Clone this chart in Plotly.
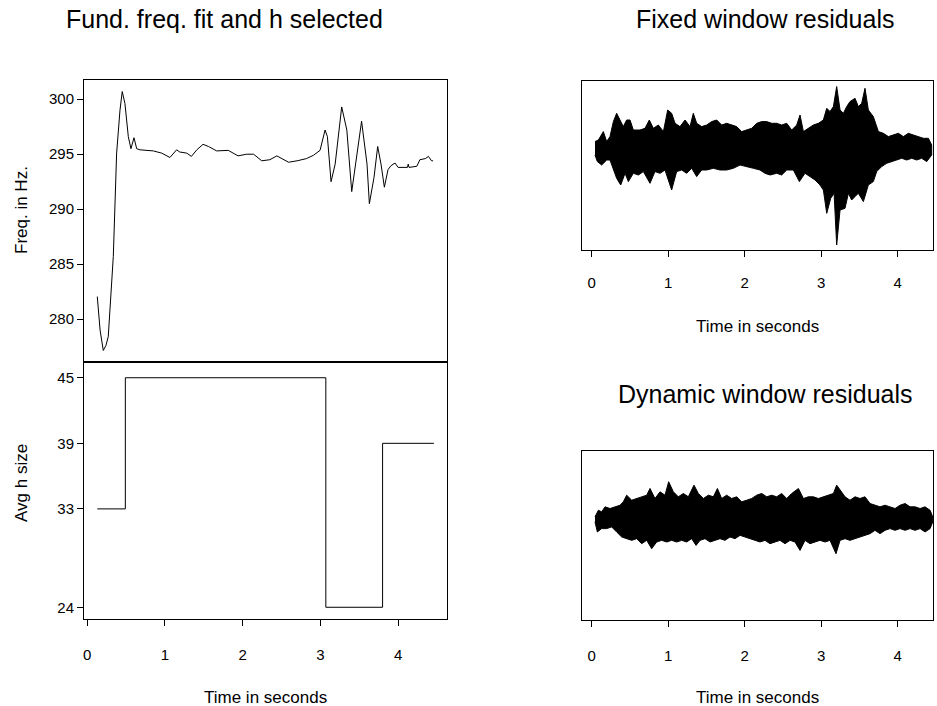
import plotly.graph_objects as go

W, H = 937, 706

# ---------------- data ----------------
freq_t = [0.129, 0.165, 0.206, 0.24, 0.27, 0.30, 0.335, 0.378, 0.421, 0.45, 0.485, 0.528, 0.562,
          0.601, 0.636, 0.678, 0.76, 0.85, 0.957, 1.064, 1.15, 1.19, 1.28, 1.34, 1.41, 1.49, 1.56,
          1.665, 1.815, 1.94, 2.05, 2.14, 2.245, 2.35, 2.44, 2.51, 2.59, 2.70, 2.82, 2.91, 2.995,
          3.06, 3.09, 3.137, 3.19, 3.274, 3.34, 3.403, 3.47, 3.53, 3.60, 3.63, 3.69, 3.737, 3.78,
          3.823, 3.87, 3.909, 3.96, 4.00, 4.12, 4.13, 4.14, 4.24, 4.28, 4.35, 4.39, 4.43, 4.45]
freq_hz = [282.05, 279.0, 277.15, 277.6, 278.4, 281.5, 285.7, 295.1, 299.0, 300.7, 299.6, 296.6, 295.5,
           296.5, 295.5, 295.4, 295.35, 295.3, 295.1, 294.7, 295.4, 295.2, 295.1, 294.8, 295.4, 295.9, 295.7,
           295.3, 295.35, 294.85, 295.0, 295.0, 294.4, 294.5, 294.85, 294.6, 294.27, 294.4, 294.6, 294.9, 295.35,
           297.2, 296.6, 292.5, 294.1, 299.3, 297.2, 291.6, 295.1, 298.0, 294.1, 290.5, 292.9, 295.7, 294.1,
           292.0, 293.6, 293.96, 294.2, 293.8, 293.8, 294.1, 293.8, 293.9, 294.5, 294.6, 294.8, 294.4, 294.4]

h_t = [0.129, 0.49, 3.07, 3.80, 4.46]
h_size = [33, 45, 24, 39, 39]
h_ticks = [24, 33, 39, 45]

# ---- Fixed window residuals: upper / lower envelope (arbitrary units) ----
fix_up_t = [0.043, 0.087, 0.152, 0.196, 0.239, 0.283, 0.326, 0.370, 0.413, 0.457, 0.501, 0.544, 0.631,
            0.697, 0.753, 0.806, 0.871, 0.937, 0.993, 1.045, 1.089, 1.154, 1.22, 1.285, 1.328, 1.372,
            1.437, 1.503, 1.568, 1.634, 1.699, 1.764, 1.83, 1.895, 1.96, 2.026, 2.091, 2.157, 2.222,
            2.287, 2.353, 2.418, 2.483, 2.549, 2.614, 2.68, 2.723, 2.767, 2.832, 2.897, 2.963, 3.028,
            3.072, 3.115, 3.159, 3.202, 3.246, 3.29, 3.333, 3.376, 3.442, 3.485, 3.529, 3.572, 3.616,
            3.681, 3.747, 3.812, 3.878, 3.943, 4.008, 4.074, 4.139, 4.205, 4.27, 4.335, 4.401, 4.444]
fix_up = [0.67, 0.83, 1.67, 0.67, 1.17, 2.67, 3.5, 2.83, 2.17, 2.83, 2.83, 1.83, 1.83,
          2.0, 2.83, 2.0, 2.33, 1.67, 3.83, 3.5, 2.5, 2.17, 2.83, 2.17, 3.5, 2.5,
          2.17, 2.33, 2.67, 2.83, 2.33, 2.5, 2.33, 2.17, 1.67, 1.83, 2.0, 2.5, 2.67,
          2.67, 2.5, 2.5, 2.33, 2.5, 1.83, 2.33, 3.33, 1.67, 2.0, 2.33, 2.5, 2.83,
          4.0, 3.67, 4.17, 6.17, 3.83, 3.5, 4.17, 4.67, 5.0, 4.17, 4.5, 6.0, 3.83,
          3.17, 1.67, 1.5, 1.17, 1.33, 1.5, 1.17, 1.5, 1.33, 1.17, 1.0, 1.0, 0.33]
fix_lo_t = [0.043, 0.074, 0.13, 0.196, 0.239, 0.283, 0.326, 0.379, 0.436, 0.479, 0.544, 0.61, 0.675,
            0.762, 0.827, 0.893, 0.958, 1.045, 1.11, 1.176, 1.241, 1.307, 1.372, 1.437, 1.503, 1.59,
            1.677, 1.764, 1.851, 1.939, 2.026, 2.113, 2.2, 2.265, 2.331, 2.418, 2.483, 2.549, 2.636,
            2.714, 2.788, 2.853, 2.919, 2.984, 3.028, 3.072, 3.124, 3.168, 3.202, 3.246, 3.311, 3.355,
            3.398, 3.442, 3.485, 3.551, 3.616, 3.681, 3.725, 3.79, 3.856, 3.921, 3.987, 4.052, 4.117,
            4.183, 4.248, 4.313, 4.379, 4.444]
fix_lo = [-0.67, -1.33, -1.67, -1.17, -1.17, -2.17, -3.0, -3.67, -2.5, -3.33, -2.5, -2.67, -2.33,
          -3.5, -2.33, -2.5, -2.17, -4.17, -2.33, -2.17, -2.5, -2.0, -2.83, -2.17, -2.17, -2.0,
          -2.17, -2.17, -2.0, -1.67, -1.83, -2.0, -2.17, -2.5, -2.67, -2.5, -2.67, -2.17, -2.17,
          -3.33, -2.5, -2.83, -3.17, -3.67, -4.17, -6.5, -5.0, -4.5, -9.67, -6.17, -6.0, -4.5,
          -5.17, -4.83, -4.5, -5.33, -3.67, -3.33, -2.33, -1.83, -1.5, -1.33, -1.17, -1.0, -1.17,
          -1.0, -1.17, -1.0, -1.33, -0.67]

# ---- Dynamic window residuals: upper / lower envelope (arbitrary units) ----
dyn_up_t = [0.043, 0.087, 0.13, 0.174, 0.239, 0.305, 0.37, 0.413, 0.457, 0.523, 0.588, 0.653, 0.719,
            0.762, 0.827, 0.893, 0.958, 1.006, 1.067, 1.132, 1.198, 1.263, 1.337, 1.394, 1.459, 1.525,
            1.59, 1.643, 1.699, 1.764, 1.83, 1.895, 1.96, 2.026, 2.091, 2.157, 2.222, 2.287, 2.353,
            2.418, 2.483, 2.549, 2.614, 2.702, 2.767, 2.832, 2.897, 2.963, 3.028, 3.094, 3.159, 3.202,
            3.246, 3.311, 3.376, 3.442, 3.507, 3.572, 3.638, 3.703, 3.769, 3.834, 3.899, 3.965, 4.03,
            4.096, 4.161, 4.226, 4.292, 4.357, 4.423, 4.457]
dyn_up = [0.17, 0.83, 0.67, 1.17, 1.0, 1.17, 1.33, 1.67, 2.33, 1.83, 2.0, 2.17, 2.33,
          3.0, 2.0, 2.67, 2.33, 3.67, 2.67, 2.17, 2.5, 2.17, 3.33, 2.5, 2.0, 2.33,
          2.17, 3.0, 2.0, 2.33, 2.0, 2.17, 1.67, 1.83, 2.0, 2.33, 2.5, 2.17, 2.33,
          2.17, 2.5, 2.0, 2.5, 3.0, 2.0, 2.17, 2.17, 2.0, 2.17, 2.33, 2.5, 3.33,
          2.83, 2.17, 1.83, 2.17, 2.0, 2.17, 1.5, 1.33, 1.17, 1.33, 1.17, 1.0, 1.33,
          1.5, 1.17, 1.17, 1.0, 1.17, 0.83, 0.17]
dyn_lo_t = [0.043, 0.074, 0.13, 0.196, 0.261, 0.326, 0.392, 0.457, 0.523, 0.588, 0.653, 0.719, 0.784,
            0.849, 0.915, 0.98, 1.045, 1.11, 1.176, 1.241, 1.307, 1.364, 1.416, 1.481, 1.547, 1.612,
            1.677, 1.742, 1.808, 1.873, 1.939, 2.004, 2.07, 2.135, 2.2, 2.265, 2.331, 2.396, 2.461,
            2.527, 2.592, 2.657, 2.723, 2.788, 2.853, 2.919, 2.984, 3.05, 3.115, 3.193, 3.246, 3.311,
            3.376, 3.442, 3.507, 3.572, 3.638, 3.703, 3.769, 3.834, 3.899, 3.965, 4.03, 4.096, 4.161,
            4.226, 4.292, 4.357, 4.423, 4.457]
dyn_lo = [-0.33, -1.33, -1.0, -1.0, -0.83, -1.33, -1.83, -2.0, -2.17, -2.0, -2.5, -2.17, -3.0,
          -2.33, -2.17, -2.33, -2.17, -2.33, -2.17, -2.33, -2.0, -2.67, -2.17, -2.0, -2.33, -2.17,
          -2.0, -2.17, -1.83, -2.0, -1.67, -1.83, -2.0, -2.17, -2.33, -2.17, -2.5, -2.33, -2.17,
          -2.5, -2.17, -2.33, -3.17, -2.17, -2.5, -2.33, -2.17, -2.33, -2.17, -3.5, -2.17, -2.0,
          -2.17, -2.0, -1.83, -1.67, -1.5, -1.17, -1.5, -1.17, -1.0, -1.17, -1.0, -1.17, -1.0,
          -1.17, -1.0, -1.33, -1.0, -0.33]

time_ticks = [0, 1, 2, 3, 4]

# ---------------- layout helpers (pixel -> paper) ----------------
def dx(px):
    return px / W

def dy(py):
    return 1 - py / H

FONT = "Liberation Sans, Arial, sans-serif"

fig = go.Figure()

fig.add_trace(go.Scatter(x=freq_t, y=freq_hz, mode="lines", line=dict(color="black", width=1),
                         xaxis="x", yaxis="y", showlegend=False, hoverinfo="skip"))
fig.add_trace(go.Scatter(x=h_t, y=h_size, mode="lines", line=dict(color="black", width=1, shape="hv"),
                         xaxis="x2", yaxis="y2", showlegend=False, hoverinfo="skip"))
fig.add_trace(go.Scatter(x=fix_up_t + fix_lo_t[::-1], y=fix_up + fix_lo[::-1], mode="lines",
                         fill="toself", fillcolor="black", line=dict(color="black", width=1),
                         xaxis="x3", yaxis="y3", showlegend=False, hoverinfo="skip"))
fig.add_trace(go.Scatter(x=dyn_up_t + dyn_lo_t[::-1], y=dyn_up + dyn_lo[::-1], mode="lines",
                         fill="toself", fillcolor="black", line=dict(color="black", width=1),
                         xaxis="x4", yaxis="y4", showlegend=False, hoverinfo="skip"))

axis_common = dict(showline=True, mirror=True, linecolor="black", linewidth=1, showgrid=False,
                   zeroline=False, ticks="outside", ticklen=6, tickcolor="black", tickwidth=1,
                   tickfont=dict(family=FONT, size=15, color="black"))

L0, L1 = dx(84), dx(447)
R0, R1 = dx(582.3), dx(933)

fig.update_layout(
    width=W, height=H, margin=dict(l=0, r=0, t=0, b=0),
    paper_bgcolor="white", plot_bgcolor="white",
    xaxis=dict(axis_common, domain=[L0, L1], range=[-0.042, 4.629], anchor="y",
               showticklabels=False, ticks=""),
    yaxis=dict(axis_common, domain=[dy(362), dy(80)], range=[276.1, 301.75], anchor="x",
               tickvals=[280, 285, 290, 295, 300]),
    xaxis2=dict(axis_common, domain=[L0, L1], range=[-0.042, 4.629], anchor="y2",
                tickvals=time_ticks, ticklabelstandoff=16),
    yaxis2=dict(axis_common, domain=[dy(619.3), dy(362)], range=[22.9, 46.44], anchor="x2",
                tickvals=h_ticks),
    xaxis3=dict(axis_common, domain=[R0, R1], range=[-0.123, 4.461], anchor="y3",
                tickvals=time_ticks, ticklabelstandoff=13),
    yaxis3=dict(axis_common, domain=[dy(250), dy(81)], range=[-10.17, 6.73], anchor="x3",
                showticklabels=False, ticks=""),
    xaxis4=dict(axis_common, domain=[R0, R1], range=[-0.123, 4.461], anchor="y4",
                tickvals=time_ticks, ticklabelstandoff=16),
    yaxis4=dict(axis_common, domain=[dy(620), dy(451)], range=[-10.1, 6.73], anchor="x4",
                showticklabels=False, ticks=""),
)

def text(x, y, s, size, angle=0):
    fig.add_annotation(x=dx(x), y=dy(y), xref="paper", yref="paper", text=s, showarrow=False,
                       textangle=angle, xanchor="center", yanchor="middle",
                       font=dict(family=FONT, size=size, color="black"))

text(224, 19, "Fund. freq. fit and h selected", 25)
text(765, 19, "Fixed window residuals", 25)
text(765, 394, "Dynamic window residuals", 25)
text(265, 697, "Time in seconds", 17)
text(757, 326, "Time in seconds", 17)
text(757, 697, "Time in seconds", 17)
text(21, 210, "Freq. in Hz.", 17, -90)
text(21, 483, "Avg h size", 17, -90)

# remove the default page margin so the figure fills the 937x706 window exactly
fig.write_html("out.html", config={"displayModeBar": False, "staticPlot": True},
               post_script="document.body.style.margin='0px';")
